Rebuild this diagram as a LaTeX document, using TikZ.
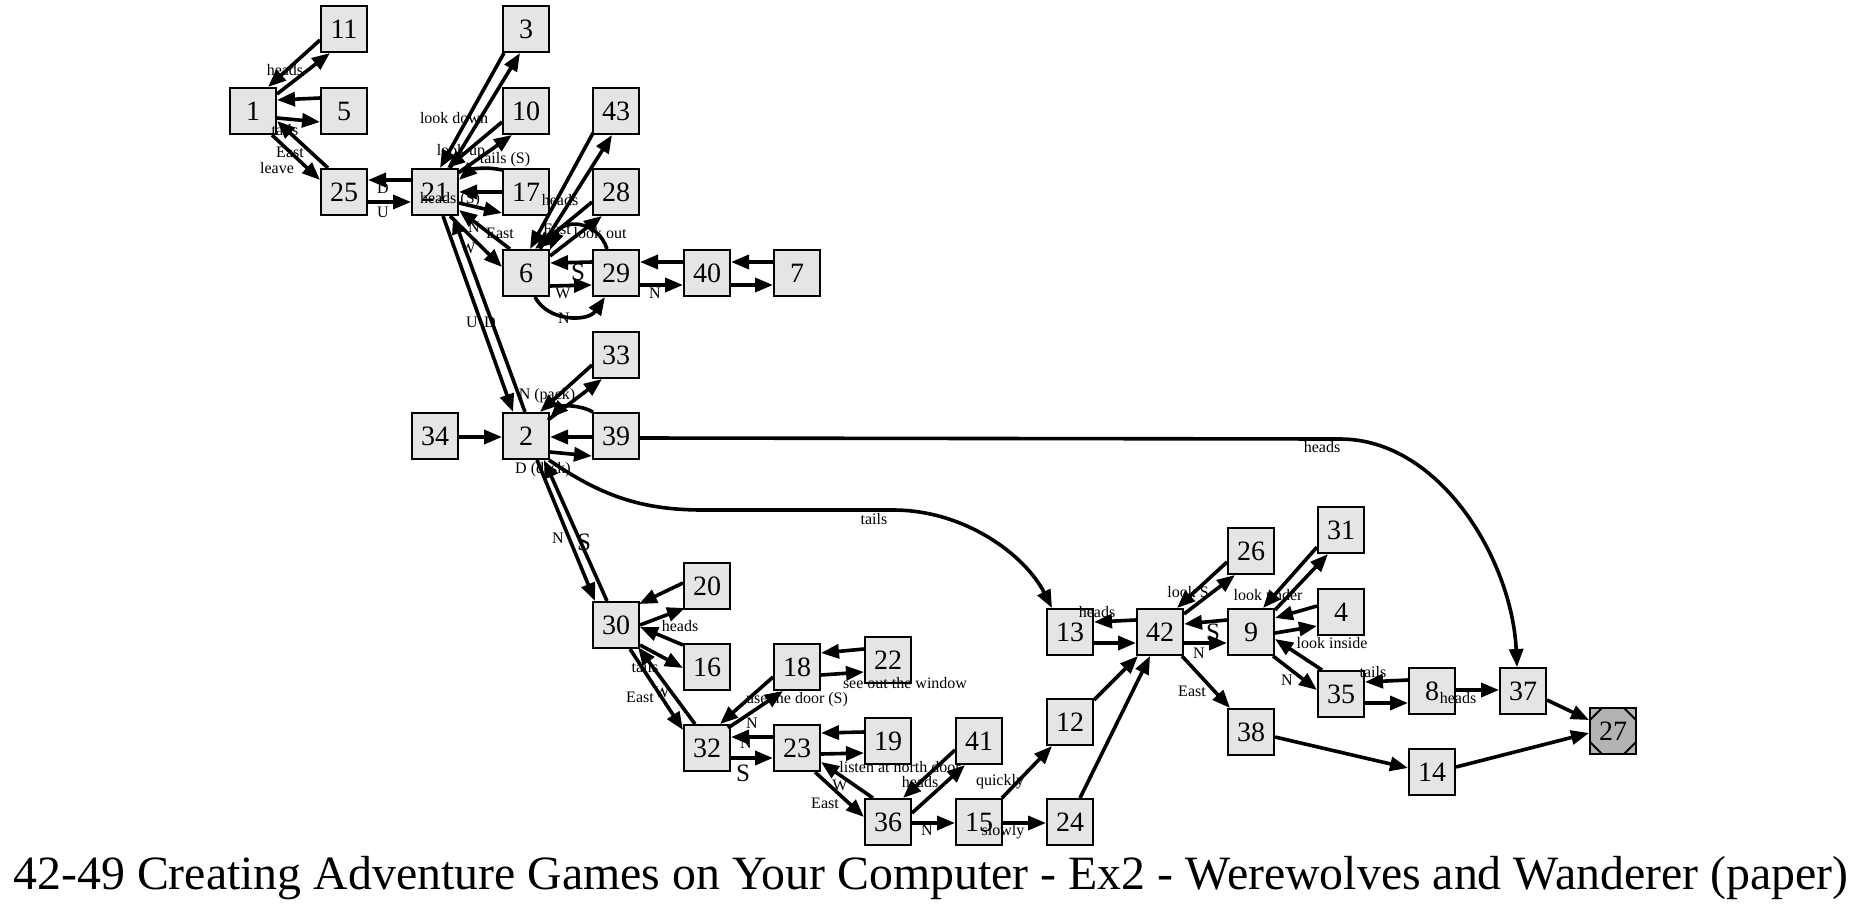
\documentclass[tikz,border=0pt]{standalone}
\usepackage{fontspec}
\usepackage{graphicx}
\setmainfont{Liberation Serif}
\usetikzlibrary{arrows.meta,calc}
\definecolor{nodegray}{HTML}{E5E5E5}
\definecolor{endgray}{HTML}{B3B3B3}
\tikzset{
 room/.style={draw=black, fill=nodegray, line width=2.9pt, minimum size=46pt, inner sep=0pt, outer sep=0pt, font=\fontsize{28}{28}\selectfont},
 endroom/.style={room, fill=endgray},
 e/.style={line width=3.6pt, -{Triangle[length=18pt,width=14pt]}},
 lbl/.style={font=\fontsize{16}{16}\selectfont, inner sep=0pt},
 big/.style={font=\fontsize{25}{25}\selectfont, inner sep=0pt},
 corner/.style={line width=2pt},
}
\newcommand{\edg}[4]{\draw[e] ($(#1)+(#2)$) -- ($(#3)+(#4)$);}
\begin{document}
\begin{tikzpicture}[x=1pt,y=-1pt]
\useasboundingbox (0,0) rectangle (1868,911);
% rooms
\node[room] (n1) at (253,111) {1};
\node[room] (n11) at (344,29) {11};
\node[room] (n5) at (344,111) {5};
\node[room] (n25) at (344,192) {25};
\node[room] (n21) at (435,192) {21};
\node[room] (n34) at (435,436) {34};
\node[room] (n3) at (526,29) {3};
\node[room] (n10) at (526,111) {10};
\node[room] (n17) at (526,192) {17};
\node[room] (n6) at (526,273) {6};
\node[room] (n2) at (526,436) {2};
\node[room] (n43) at (616,111) {43};
\node[room] (n28) at (616,192) {28};
\node[room] (n29) at (616,273) {29};
\node[room] (n33) at (616,355) {33};
\node[room] (n39) at (616,436) {39};
\node[room] (n30) at (616,625) {30};
\node[room] (n40) at (707,273) {40};
\node[room] (n7) at (797,273) {7};
\node[room] (n20) at (707,586) {20};
\node[room] (n16) at (707,667) {16};
\node[room] (n32) at (707,748) {32};
\node[room] (n18) at (797,667) {18};
\node[room] (n23) at (797,748) {23};
\node[room] (n22) at (888,660) {22};
\node[room] (n19) at (888,741) {19};
\node[room] (n36) at (888,822) {36};
\node[room] (n41) at (979,741) {41};
\node[room] (n15) at (979,822) {15};
\node[room] (n12) at (1070,722) {12};
\node[room] (n24) at (1070,822) {24};
\node[room] (n13) at (1070,632) {13};
\node[room] (n42) at (1160,632) {42};
\node[room] (n9) at (1251,632) {9};
\node[room] (n26) at (1251,551) {26};
\node[room] (n38) at (1251,732) {38};
\node[room] (n31) at (1341,530) {31};
\node[room] (n4) at (1341,612) {4};
\node[room] (n35) at (1341,694) {35};
\node[room] (n8) at (1432,691) {8};
\node[room] (n14) at (1432,772) {14};
\node[room] (n37) at (1523,691) {37};
\node[endroom] (n27) at (1613,731) {27};
\draw[corner] ($(n27)+(-23,-11)$) -- ($(n27)+(-11,-23)$);
\draw[corner] ($(n27)+(11,-23)$) -- ($(n27)+(23,-11)$);
\draw[corner] ($(n27)+(23,11)$) -- ($(n27)+(11,23)$);
\draw[corner] ($(n27)+(-11,23)$) -- ($(n27)+(-23,11)$);
% edges around 1
\edg{n11}{-24,11}{n1}{15,-24}
\edg{n1}{24,-17}{n11}{-14,24}
\edg{n5}{-24,-13}{n1}{24,-11}
\edg{n1}{24,7}{n5}{-24,11}
\edg{n25}{-16,-24}{n1}{24,10}
\edg{n1}{19,24}{n25}{-24,-12}
% 21
\edg{n21}{-24,-12}{n25}{24,-12}
\edg{n25}{24,10}{n21}{-24,10}
\edg{n3}{-22,24}{n21}{5,-24}
\edg{n21}{15,-24}{n3}{-6,24}
\edg{n10}{-24,11}{n21}{12,-24}
\edg{n21}{23,-19}{n10}{-14,24}
\draw[e] ($(n17)+(-24,-22)$) .. controls (485,166) and (470,170) .. ($(n21)+(24,-12)$);
\edg{n17}{-24,0}{n21}{24,0}
\edg{n21}{24,11}{n17}{-24,21}
\edg{n21}{15,24}{n6}{-24,-6}
\edg{n6}{-16,-24}{n21}{24,18}
\edg{n21}{8,24}{n2}{-13,-24}
\edg{n2}{-1,-24}{n21}{18,24}
% 6
\edg{n43}{-23,22}{n6}{4,-24}
\edg{n6}{14,-24}{n43}{-4,24}
\edg{n28}{-24,10}{n6}{9,-24}
\edg{n6}{24,-17}{n28}{-14,24}
\draw[e] ($(n29)+(-9,-24)$) .. controls (598,220) and (562,218) .. ($(n6)+(24,-23)$);
\edg{n29}{-24,-11}{n6}{24,-10}
\edg{n6}{24,13}{n29}{-24,12}
\draw[e] ($(n6)+(9,24)$) .. controls (548,322) and (588,322) .. ($(n29)+(-11,24)$);
\edg{n40}{-24,-11}{n29}{24,-11}
\edg{n29}{24,12}{n40}{-24,12}
\edg{n7}{-24,-11}{n40}{24,-11}
\edg{n40}{24,12}{n7}{-24,12}
% 2
\edg{n34}{24,1}{n2}{-24,1}
\edg{n39}{-24,1}{n2}{24,1}
\edg{n2}{24,16}{n39}{-24,20}
\draw[e] ($(n39)+(-23,-24)$) .. controls (578,404) and (562,406) .. ($(n2)+(24,-18)$);
\edg{n33}{-24,10}{n2}{14,-24}
\edg{n2}{22,-16}{n33}{-14,24}
\edg{n2}{11,24}{n30}{-21,-24}
\edg{n30}{-9,-24}{n2}{18,24}
\draw[e] ($(n39)+(24,2)$) -- (1340,439) .. controls (1440,439) and (1512,560) .. ($(n37)+(-6,-24)$);
\draw[e] ($(n2)+(23,24)$) .. controls (600,495) and (640,510) .. (703,510) -- (893,510) .. controls (965,510) and (1025,555) .. ($(n13)+(-18,-24)$);
% 30
\edg{n20}{-24,-3}{n30}{23,-21}
\edg{n30}{24,0}{n20}{-22,22}
\edg{n16}{-24,-22}{n30}{24,2}
\edg{n30}{24,20}{n16}{-24,1}
\edg{n30}{14,24}{n32}{-24,-18}
\edg{n32}{-12,-24}{n30}{22,22}
\edg{n18}{-24,10}{n32}{13,-24}
\edg{n32}{21,-20}{n18}{-14,24}
\edg{n22}{-24,-11}{n18}{24,-14}
\edg{n18}{24,8}{n22}{-24,12}
\edg{n23}{-24,-11}{n32}{24,-11}
\edg{n32}{24,10}{n23}{-24,10}
\edg{n19}{-24,-9}{n23}{24,-15}
\edg{n23}{24,6}{n19}{-24,12}
\edg{n23}{18,24}{n36}{-24,-5}
\edg{n36}{-15,-24}{n23}{24,14}
\edg{n41}{-24,9}{n36}{15,-24}
\edg{n36}{24,-9}{n41}{-14,24}
\edg{n36}{24,1}{n15}{-24,1}
\edg{n15}{23,-24}{n12}{-18,24}
\edg{n15}{24,1}{n24}{-24,1}
% 42
\edg{n12}{24,-22}{n42}{-22,24}
\edg{n24}{10,-24}{n42}{-10,24}
\edg{n42}{-24,-12}{n13}{24,-10}
\edg{n13}{24,11}{n42}{-24,11}
\edg{n26}{-24,11}{n42}{17,-24}
\edg{n42}{24,-18}{n26}{-16,24}
\edg{n9}{-24,-12}{n42}{24,-8}
\edg{n42}{24,11}{n9}{-24,11}
\edg{n42}{22,24}{n38}{-21,-24}
\edg{n31}{-24,17}{n9}{12,-24}
\edg{n9}{24,-22}{n31}{-13,24}
\edg{n4}{-24,-6}{n9}{24,-14}
\edg{n9}{24,1}{n4}{-24,14}
\edg{n35}{-19,-24}{n9}{24,7}
\edg{n9}{22,24}{n35}{-24,-4}
\edg{n8}{-24,-11}{n35}{24,-12}
\edg{n35}{24,9}{n8}{-24,12}
\edg{n8}{24,-1}{n37}{-24,-1}
\edg{n37}{24,9}{n27}{-24,-11}
\edg{n14}{24,-5}{n27}{-24,2}
\edg{n38}{24,5}{n14}{-24,-4}
% labels
\node[lbl] (la1) at (285,70) {heads};
\node[lbl] (la2) at (285,130) {tails};
\node[lbl] (la3) at (290,152) {East};
\node[lbl] (la4) at (277,168) {leave};
\node[lbl] (la5) at (383,188) {D};
\node[lbl] (la6) at (383,212) {U};
\node[lbl] (la7) at (454,118) {look down};
\node[lbl] (la8) at (461,152) {look up};
\node[lbl] (la9) at (505,160) {tails (S)};
\node[lbl] (la10) at (450,200) {heads (S)};
\node[lbl] (la11) at (474,227) {N};
\node[lbl] (la12) at (500,233) {East};
\node[lbl] (la13) at (468,248) {W};
\node[lbl] (la14) at (560,200) {heads};
\node[lbl] (la15) at (557,229) {East};
\node[lbl] (la16) at (600,233) {look out};
\node[big] (la17) at (578,272) {S};
\node[lbl] (la18) at (563,293) {W};
\node[lbl] (la19) at (564,318) {N};
\node[lbl] (la20) at (655,293) {N};
\node[lbl] (la21) at (472,322) {U};
\node[lbl] (la22) at (490,322) {D};
\node[lbl] (la23) at (547,396) {N (pack)};
\node[lbl] (la24) at (543,470) {D (desk)};
\node[lbl] (la25) at (1322,447) {heads};
\node[lbl] (la26) at (874,519) {tails};
\node[lbl] (la27) at (558,538) {N};
\node[big] (la28) at (584,542) {S};
\node[lbl] (la29) at (680,626) {heads};
\node[lbl] (la30) at (645,667) {tails};
\node[lbl] (la31) at (640,697) {East};
\node[lbl] (la32) at (662,692) {W};
\node[lbl] (la33) at (797,700) {use the door (S)};
\node[lbl] (la34) at (752,723) {N};
\node[lbl] (la35) at (905,683) {see out the window};
\node[lbl] (la36) at (746,743) {N};
\node[big] (la37) at (743,773) {S};
\node[lbl] (la38) at (900,767) {listen at north door};
\node[lbl] (la39) at (825,803) {East};
\node[lbl] (la40) at (840,785) {W};
\node[lbl] (la41) at (920,782) {heads};
\node[lbl] (la42) at (927,830) {N};
\node[lbl] (la43) at (1000,782) {quickly};
\node[lbl] (la44) at (1003,832) {slowly};
\node[lbl] (la45) at (1097,612) {heads};
\node[lbl] (la46) at (1188,592) {look S};
\node[big] (la47) at (1213,632) {S};
\node[lbl] (la48) at (1199,653) {N};
\node[lbl] (la49) at (1192,691) {East};
\node[lbl] (la50) at (1268,595) {look under};
\node[lbl] (la51) at (1332,643) {look inside};
\node[lbl] (la52) at (1287,680) {N};
\node[lbl] (la53) at (1373,672) {tails};
\node[lbl] (la54) at (1458,698) {heads};
% title
\node[anchor=base, inner sep=0pt] (title) at (931,889) {\resizebox{1835pt}{!}{\fontsize{48}{48}\selectfont 42-49 Creating Adventure Games on Your Computer - Ex2 - Werewolves and Wanderer (paper)}};
\end{tikzpicture}
\end{document}
